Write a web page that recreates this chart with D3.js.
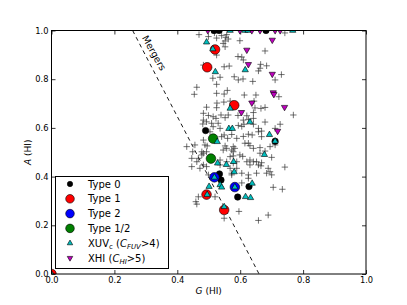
<!DOCTYPE html>
<html><head><meta charset="utf-8">
<script src="https://cdn.jsdelivr.net/npm/d3@7/dist/d3.min.js"></script>
<style>
html,body{margin:0;padding:0;background:#fff;}
svg{display:block;font-family:"DejaVu Sans",sans-serif;}
</style></head><body>
<svg id="c" width="407" height="305"></svg>
<script>
// ---- data (G, A) ----
const crosses = [
[0.469,0.983],[0.499,0.975],[0.518,0.990],[0.525,0.969],[0.541,0.979],[0.557,0.983],[0.554,0.972],[0.562,0.965],
[0.552,0.957],[0.546,0.947],[0.552,0.933],[0.599,0.958],[0.742,0.990],[0.679,0.916],[0.525,0.899],[0.593,0.893],
[0.605,0.891],[0.610,0.879],[0.483,0.858],[0.549,0.851],[0.565,0.854],[0.665,0.861],[0.684,0.855],[0.663,0.845],
[0.658,0.834],[0.513,0.804],[0.536,0.808],[0.581,0.810],[0.594,0.797],[0.609,0.801],[0.640,0.791],[0.711,0.797],
[0.731,0.819],[0.525,0.779],[0.462,0.767],[0.454,0.738],[0.559,0.754],[0.549,0.739],[0.525,0.742],[0.613,0.735],
[0.650,0.735],[0.723,0.728],[0.526,0.702],[0.548,0.706],[0.568,0.710],[0.493,0.685],[0.525,0.683],[0.644,0.710],
[0.647,0.682],[0.666,0.680],[0.679,0.684],[0.769,0.653],[0.642,0.663],[0.539,0.653],[0.562,0.653],[0.593,0.651],
[0.621,0.650],[0.483,0.660],[0.499,0.651],[0.514,0.646],[0.552,0.642],[0.483,0.632],[0.493,0.625],[0.509,0.619],
[0.530,0.619],[0.523,0.639],[0.610,0.632],[0.626,0.635],[0.642,0.639],[0.679,0.624],[0.727,0.615],[0.711,0.598],
[0.658,0.598],[0.594,0.610],[0.605,0.606],[0.612,0.615],[0.642,0.615],[0.481,0.616],[0.514,0.605],[0.536,0.598],
[0.504,0.584],[0.549,0.571],[0.560,0.557],[0.573,0.573],[0.541,0.564],[0.610,0.565],[0.626,0.574],[0.638,0.571],
[0.589,0.557],[0.658,0.584],[0.668,0.587],[0.668,0.564],[0.483,0.550],[0.495,0.526],[0.430,0.523],[0.449,0.502],
[0.456,0.530],[0.488,0.530],[0.478,0.502],[0.493,0.502],[0.552,0.526],[0.557,0.516],[0.573,0.509],[0.578,0.523],
[0.546,0.509],[0.583,0.516],[0.615,0.537],[0.626,0.537],[0.631,0.527],[0.642,0.516],[0.663,0.519],[0.695,0.523],
[0.711,0.530],[0.679,0.505],[0.599,0.489],[0.608,0.483],[0.578,0.485],[0.578,0.502],[0.631,0.468],[0.642,0.461],
[0.652,0.461],[0.663,0.496],[0.700,0.479],[0.483,0.496],[0.462,0.461],[0.467,0.475],[0.478,0.489],[0.446,0.475],
[0.536,0.468],[0.557,0.461],[0.568,0.482],[0.446,0.441],[0.472,0.434],[0.483,0.448],[0.493,0.441],[0.536,0.448],
[0.568,0.434],[0.578,0.455],[0.573,0.414],[0.589,0.434],[0.589,0.461],[0.621,0.461],[0.631,0.448],[0.658,0.448],
[0.668,0.457],[0.666,0.444],[0.689,0.434],[0.695,0.420],[0.684,0.414],[0.700,0.407],[0.742,0.439],[0.626,0.407],
[0.652,0.414],[0.626,0.393],[0.605,0.414],[0.573,0.407],[0.605,0.374],[0.705,0.356],[0.734,0.348],[0.499,0.407],
[0.520,0.317],[0.467,0.317],[0.459,0.297],[0.462,0.287],[0.596,0.257],[0.549,0.229],[0.658,0.220],[0.689,0.242]
];
const type0 = [[0.490,0.589],[0.711,0.545],[0.534,0.411],[0.592,0.316],[0.628,0.359],[0.539,0.386],
[0.517,1.0],[0.533,1.0],[0.682,1.0]];
const type1 = [[0.520,0.922],[0.495,0.849],[0.581,0.693],[0.493,0.326],[0.549,0.263],[0.0,0.0]];
const type2 = [[0.518,0.397],[0.583,0.357]];
const type12 = [[0.514,0.556],[0.507,0.474]];
const xuv = [[0.493,0.952],[0.513,0.924],[0.521,0.830],[0.616,0.838],[0.568,0.680],[0.631,0.624],[0.564,0.597],
[0.575,0.597],[0.693,0.572],[0.711,0.545],[0.527,0.543],[0.677,0.490],[0.528,0.455],[0.556,0.449],[0.579,0.461],
[0.581,0.419],[0.518,0.397],[0.536,0.366],[0.541,0.356],[0.501,0.359],[0.638,0.372],[0.583,0.357],[0.617,0.317],
[0.633,0.313],[0.495,0.326],[0.549,0.276],[0.0,0.0],[0.568,1.0],[0.615,1.0],[0.625,1.0],[0.767,1.0]];
const xhi = [[0.702,0.961],[0.621,0.920],[0.626,0.861],[0.702,0.821],[0.705,0.745],[0.707,0.738],[0.637,0.703],
[0.741,0.685],[0.604,0.664],[0.719,0.587],[0.497,1.0],[0.599,1.0],[0.637,1.0],[0.663,1.0],[0.711,1.0],[0.727,1.0]];
const mergerG = [0.258, 0.660];
const mergerA = [1.0, 0.0];
const ticks = [0, 0.2, 0.4, 0.6, 0.8, 1.0];
const legendLabels = ["Type 0","Type 1","Type 2","Type 1/2","XUV","XHI"];

// ---- drawing ----
const svg = d3.select("#c");
const L=51.5, R=366, T=30.5, B=274;
const x = d3.scaleLinear().domain([0,1]).range([L,R]);
const y = d3.scaleLinear().domain([0,1]).range([B,T]);

svg.append("defs").append("clipPath").attr("id","clip")
  .append("rect").attr("x",L).attr("y",T).attr("width",R-L).attr("height",B-T);

const fmt = d3.format(".1f");
function styleAxis(g){ g.select(".domain").remove(); g.selectAll("line").attr("stroke","#000").attr("stroke-width",0.8);
  g.selectAll("text").attr("font-family","DejaVu Sans").attr("font-size",8.3).attr("fill","#000"); }
svg.append("g").attr("transform",`translate(0,${B})`)
  .call(d3.axisBottom(x).tickValues(ticks).tickFormat(fmt).tickSize(-4).tickPadding(3)).call(styleAxis);
svg.append("g").attr("transform",`translate(0,${T})`)
  .call(d3.axisTop(x).tickValues(ticks).tickFormat("").tickSize(-4)).call(styleAxis);
svg.append("g").attr("transform",`translate(${L},0)`)
  .call(d3.axisLeft(y).tickValues(ticks).tickFormat(fmt).tickSize(-4).tickPadding(3)).call(styleAxis);
svg.append("g").attr("transform",`translate(${R},0)`)
  .call(d3.axisRight(y).tickValues(ticks).tickFormat("").tickSize(-4)).call(styleAxis);

const plot = svg.append("g").attr("clip-path","url(#clip)");

// merger line
plot.append("line").attr("x1",x(mergerG[0])).attr("y1",y(mergerA[0]))
  .attr("x2",x(mergerG[1])).attr("y2",y(mergerA[1]))
  .attr("stroke","#000").attr("stroke-width",0.9).attr("stroke-dasharray","4,3.5");
const ang = Math.atan2(y(mergerA[1])-y(mergerA[0]), x(mergerG[1])-x(mergerG[0]))*180/Math.PI;
svg.append("text").attr("transform",`translate(154,53) rotate(${ang-2})`)
  .attr("text-anchor","middle").attr("dy","0.35em").attr("font-size",9.5).text("Mergers");

// crosses
const cs = 3.2;
plot.append("g").selectAll("path").data(crosses).join("path")
  .attr("d",d=>`M${x(d[0])-cs},${y(d[1])}h${2*cs}M${x(d[0])},${y(d[1])-cs}v${2*cs}`)
  .attr("stroke","#333").attr("stroke-width",0.7).attr("fill","none");

function circles(data, r, color){
  plot.append("g").selectAll("circle").data(data).join("circle")
    .attr("cx",d=>x(d[0])).attr("cy",d=>y(d[1])).attr("r",r)
    .attr("fill",color).attr("stroke","#000").attr("stroke-width",0.6);
}
circles(type0, 3.2, "#000");
circles(type1, 4.8, "#ff0000");
circles(type2, 4.8, "#0000ff");
circles(type12, 4.8, "#008000");

const triUp = d3.symbol().type(d3.symbolTriangle).size(17);
function tris(data, color, rot){
  plot.append("g").selectAll("path").data(data).join("path")
    .attr("d",triUp).attr("transform",d=>`translate(${x(d[0])},${y(d[1])}) rotate(${rot})`)
    .attr("fill",color).attr("stroke","#000").attr("stroke-width",0.6);
}
tris(xuv, "#00bfbf", 0);
tris(xhi, "#bf00bf", 180);

// frame
svg.append("rect").attr("x",L).attr("y",T).attr("width",R-L).attr("height",B-T)
  .attr("fill","none").attr("stroke","#000").attr("stroke-width",1);

// axis labels
const xl = svg.append("text").attr("x",(L+R)/2).attr("y",294).attr("text-anchor","middle").attr("font-size",9);
xl.append("tspan").attr("font-style","italic").text("G");
xl.append("tspan").text(" (HI)");
const yl = svg.append("text").attr("transform",`translate(31,${(T+B)/2}) rotate(-90)`).attr("text-anchor","middle").attr("font-size",9);
yl.append("tspan").attr("font-style","italic").text("A");
yl.append("tspan").text(" (HI)");

// legend
const lg = svg.append("g");
lg.append("rect").attr("x",55.5).attr("y",176.5).attr("width",113).attr("height",92)
  .attr("fill","#fff").attr("stroke","#000").attr("stroke-width",1);
const rowY = i => 184 + i*14.8;
const lm = [
  {t:"c", r:2.7, c:"#000"},{t:"c", r:4.3, c:"#ff0000"},{t:"c", r:4.3, c:"#0000ff"},{t:"c", r:4.3, c:"#008000"},
  {t:"u", c:"#00bfbf"},{t:"d", c:"#bf00bf"}];
lm.forEach((m,i)=>{
  if(m.t==="c") lg.append("circle").attr("cx",70).attr("cy",rowY(i)).attr("r",m.r).attr("fill",m.c).attr("stroke","#000").attr("stroke-width",0.6);
  else lg.append("path").attr("d",d3.symbol().type(d3.symbolTriangle).size(13))
    .attr("transform",`translate(70,${rowY(i)}) rotate(${m.t==="d"?180:0})`)
    .attr("fill",m.c).attr("stroke","#000").attr("stroke-width",0.6);
});
legendLabels.forEach((lab,i)=>{
  const t = lg.append("text").attr("x",88).attr("y",rowY(i)).attr("dy","0.35em").attr("font-size",10);
  if(i<4){ t.text(lab); return; }
  if(i===4){
    t.append("tspan").text("XUV");
    t.append("tspan").attr("font-size",7).attr("dy",2.5).text("c");
    t.append("tspan").attr("dy",-2.5).text(" (");
    t.append("tspan").attr("font-style","italic").text("C");
    t.append("tspan").attr("font-style","italic").attr("font-size",7).attr("dy",2.5).text("FUV");
    t.append("tspan").attr("dy",-2.5).text(">4)");
  } else {
    t.append("tspan").text("XHI (");
    t.append("tspan").attr("font-style","italic").text("C");
    t.append("tspan").attr("font-style","italic").attr("font-size",7).attr("dy",2.5).text("HI");
    t.append("tspan").attr("dy",-2.5).text(">5)");
  }
});
</script>
</body></html>
